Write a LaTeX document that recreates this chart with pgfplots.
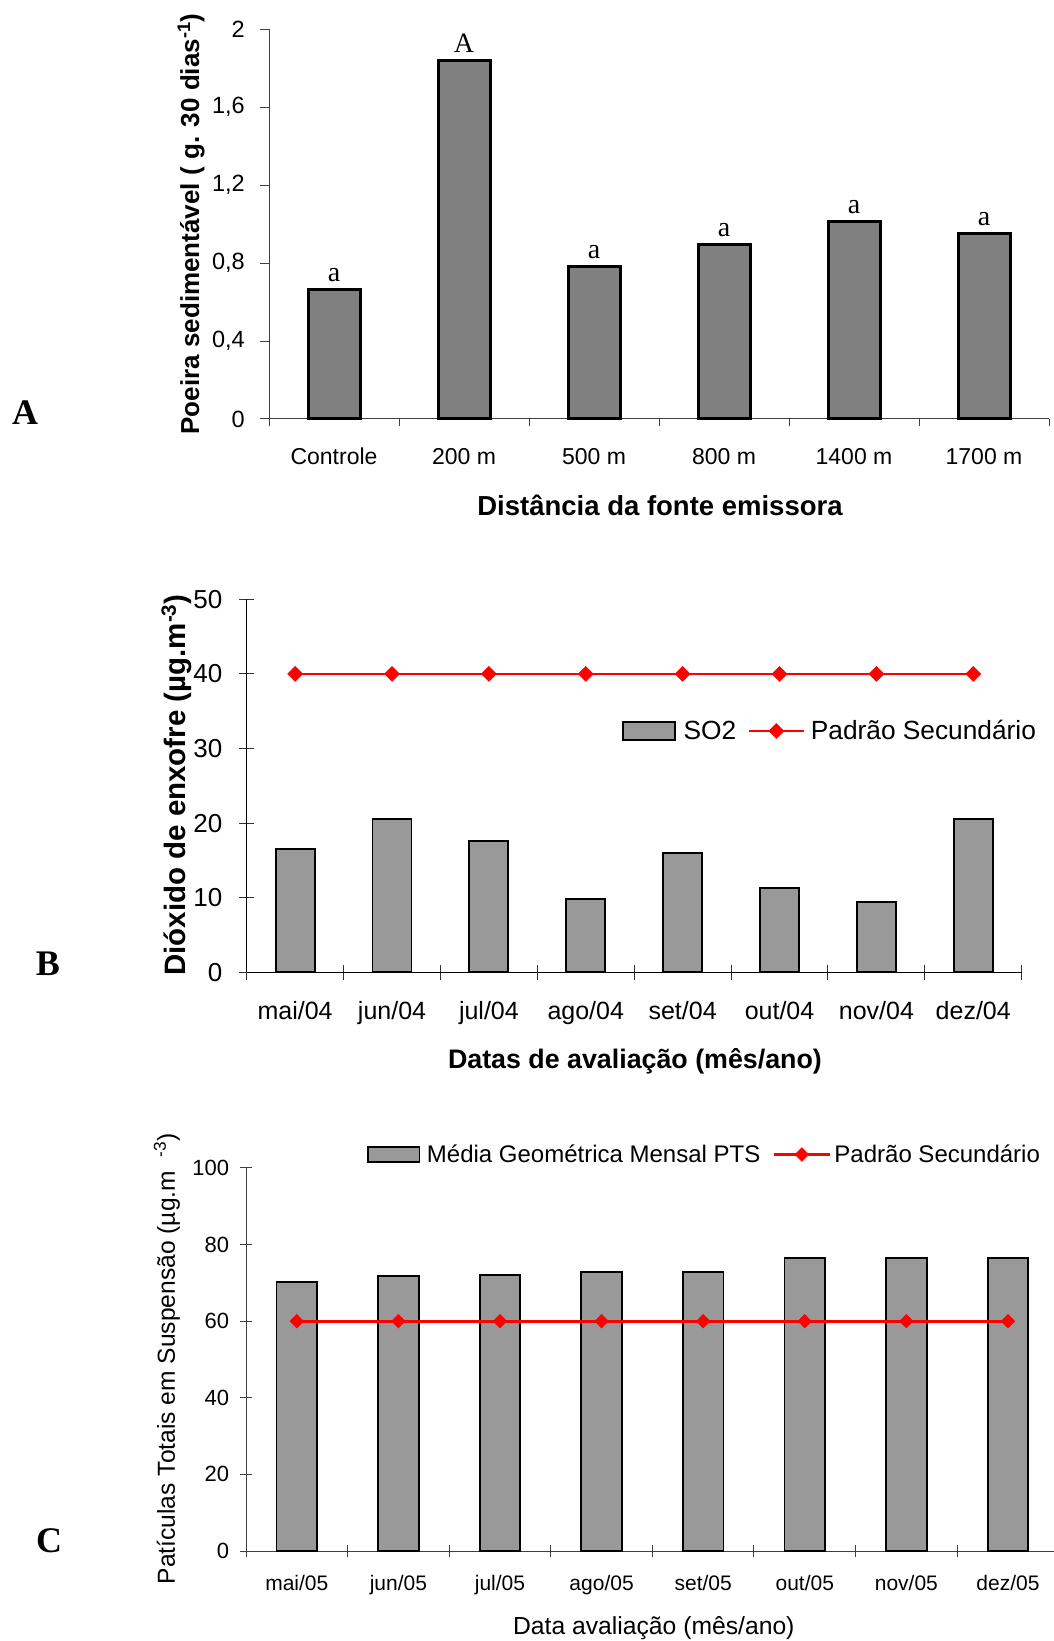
\documentclass[border=0pt]{standalone}
\usepackage{fontspec}
\setmainfont{Liberation Sans}
\newfontfamily\timesfont{Liberation Serif}
\usepackage{pgfplots}
\pgfplotsset{compat=1.18}
\definecolor{barA}{HTML}{808080}
\definecolor{barB}{HTML}{999999}
\definecolor{redline}{HTML}{FF0000}
\newcommand{\fs}[1]{\fontsize{#1}{#1}\selectfont}

\pgfplotsset{
  panel/.style={
    scale only axis, anchor=south west, clip=false,
    axis x line=bottom, axis y line=left,
    axis line style={-, line width=1pt},
    tick style={line width=1pt},
    /pgf/number format/assume math mode=true,
    major x tick style=transparent,
    xticklabel style={anchor=base, inner sep=0pt},
    yticklabel style={anchor=east, inner sep=0pt},
    every axis x label/.style={anchor=base},
    every axis y label/.style={rotate=90, anchor=base},
    legend cell align=left,
  },
  barlegB/.style={legend image code/.code={\draw[##1] (0pt,-8.8pt) rectangle (52.3pt,8.8pt);}},
  barlegC/.style={legend image code/.code={\draw[##1] (0pt,-7.4pt) rectangle (51.6pt,7.4pt);}},
  linelegB/.style={legend image code/.code={\draw[mark repeat=2,mark phase=2,##1] plot coordinates {(0pt,0pt) (27.5pt,0pt) (55pt,0pt)};}},
  linelegC/.style={legend image code/.code={\draw[mark repeat=2,mark phase=2,##1] plot coordinates {(0pt,0pt) (28pt,0pt) (56pt,0pt)};}},
}

\begin{document}
\begin{tikzpicture}
\useasboundingbox (0pt,0pt) rectangle (1054pt,1641pt);

% ---------------- Panel A ----------------
\begin{axis}[panel, at={(269pt,1222pt)}, width=780pt, height=389.7pt,
  xmin=-0.5, xmax=5.5, ymin=0, ymax=2,
  axis line style={black!75}, tick style={black!75},
  xtick={0,...,5}, xticklabels={Controle,200 m,500 m,800 m,1400 m,1700 m},
  minor xtick={-0.5,0.5,...,5.5},
  ytick={0,0.4,0.8,1.2,1.6,2}, yticklabels={0,{0,4},{0,8},{1,2},{1,6},2},
  tick align=outside, major tick length=9pt, minor tick length=7pt,
  xticklabel style={font=\fs{23}, yshift=-37pt},
  yticklabel style={font=\fs{23.5}, xshift=-15pt},
  xlabel={Distância da fonte emissora},
  xlabel style={font=\fs{27.5}\bfseries, at={(axis description cs:0.5013,-0.247)}},
  ylabel={Poeira sedimentável ( g. 30 dias\textsuperscript{-1})},
  ylabel style={font=\fs{26}\bfseries, at={(axis description cs:-0.0897,0.5004)}},
]
\addplot[ybar, bar width=52pt, bar shift=0pt, fill=barA, draw=black, line width=3pt,
  point meta=explicit symbolic, nodes near coords={\pgfplotspointmeta},
  every node near coord/.append style={font=\timesfont\fs{28}, anchor=base, yshift=8pt, inner sep=0pt}]
  coordinates {(0,0.667) [a] (1,1.842) [A] (2,0.782) [a] (3,0.896) [a] (4,1.016) [a] (5,0.953) [a]};
\end{axis}

% ---------------- Panel B ----------------
\begin{axis}[panel, at={(246.7pt,668.7pt)}, width=775pt, height=373pt,
  xmin=-0.5, xmax=7.5, ymin=0, ymax=50,
  axis line style={black}, tick style={black!80},
  xtick={0,...,7}, xticklabels={mai/04,jun/04,jul/04,ago/04,set/04,out/04,nov/04,dez/04},
  minor xtick={-0.5,0.5,...,7.5},
  ytick={0,10,...,50},
  tick align=center, major tick length=15pt, minor tick length=15pt,
  xticklabel style={font=\fs{25}, yshift=-39.3pt},
  yticklabel style={font=\fs{26}, xshift=-16.7pt},
  xlabel={Datas de avaliação (mês/ano)},
  xlabel style={font=\fs{26.8}\bfseries, at={(axis description cs:0.501,-0.2574)}},
  ylabel={Dióxido de enxofre (µg.m\textsuperscript{-3})},
  ylabel style={font=\fs{29.5}\bfseries, at={(axis description cs:-0.0796,0.502)}},
  legend columns=2,
  legend style={draw=none, fill=none, at={(axis description cs:0.4839,0.647)}, anchor=west,
    inner sep=0pt, font=\fs{26.3}, nodes={inner sep=0pt},
    /tikz/column 1/.style={column sep=7.5pt},
    /tikz/column 2/.style={column sep=11.7pt},
    /tikz/column 3/.style={column sep=6pt}},
]
\addplot[ybar, bar width=39pt, bar shift=0pt, fill=barB, draw=black, line width=1.8pt, barlegB]
  coordinates {(0,16.5) (1,20.6) (2,17.6) (3,9.8) (4,16.0) (5,11.3) (6,9.4) (7,20.6)};
\addlegendentry{SO2}
\addplot[redline, line width=2pt, mark=diamond*, mark size=7.5pt,
  mark options={xscale=1.33, line width=0.5pt}, linelegB]
  coordinates {(0,40) (1,40) (2,40) (3,40) (4,40) (5,40) (6,40) (7,40)};
\addlegendentry{Padrão Secundário}
\end{axis}

% ---------------- Panel C ----------------
\begin{axis}[panel, at={(246pt,90pt)}, width=808pt, height=383pt,
  xmin=-0.5, xmax=7.453, ymin=0, ymax=100,
  axis line style={black!75}, tick style={black!75},
  xtick={0,...,7}, xticklabels={mai/05,jun/05,jul/05,ago/05,set/05,out/05,nov/05,dez/05},
  minor xtick={-0.5,0.5,...,6.5},
  ytick={0,20,...,100},
  tick align=center, major tick length=12pt, minor tick length=12pt,
  xticklabel style={font=\fs{21}, yshift=-33pt},
  yticklabel style={font=\fs{22}, xshift=-10.7pt},
  xlabel={Data avaliação (mês/ano)},
  xlabel style={font=\fs{24.7}, at={(axis description cs:0.5047,-0.2188)}},
  ylabel={Patículas Totais em Suspensão (µg.m\ \ \textsuperscript{-3})},
  ylabel style={font=\fs{24.6}, at={(axis description cs:-0.0879,0.502)}},
  legend columns=2,
  legend style={draw=none, fill=none, at={(axis description cs:0.1494,1.0352)}, anchor=west,
    inner sep=0pt, font=\fs{24}, nodes={inner sep=0pt},
    /tikz/column 1/.style={column sep=6.6pt},
    /tikz/column 2/.style={column sep=12pt},
    /tikz/column 3/.style={column sep=3.1pt}},
]
\addplot[ybar, bar width=40.5pt, bar shift=0pt, fill=barB, draw=black, line width=1.8pt, barlegC]
  coordinates {(0,70.3) (1,71.8) (2,72.0) (3,72.9) (4,72.9) (5,76.5) (6,76.5) (7,76.5)};
\addlegendentry{Média Geométrica Mensal PTS}
\addplot[redline, line width=3pt, mark=diamond*, mark size=6.8pt,
  mark options={xscale=1.33, line width=0.5pt}, linelegC]
  coordinates {(0,60) (1,60) (2,60) (3,60) (4,60) (5,60) (6,60) (7,60)};
\addlegendentry{Padrão Secundário}
\end{axis}

% panel letters
\node[font=\timesfont\bfseries\fs{36}, anchor=base] at (25pt,1216.7pt) {A};
\node[font=\timesfont\bfseries\fs{36}, anchor=base] at (48pt,665pt) {B};
\node[font=\timesfont\bfseries\fs{36}, anchor=base] at (49pt,88.7pt) {C};
\end{tikzpicture}
\end{document}
